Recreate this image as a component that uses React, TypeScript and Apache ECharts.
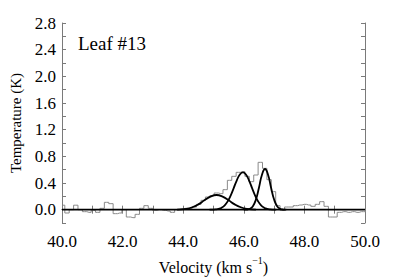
import React, { useEffect, useRef } from "react";
import * as echarts from "echarts";

// Observed spectrum: channel centres (km/s) and brightness temperature (K)
const channelStart = 40.02;
const channelWidth = 0.145;
const observedT = [
  0.067, -0.05, 0.0, 0.067, 0.0, -0.03, -0.04, -0.01, -0.04, 0.02,
  0.11, 0.09, -0.06, -0.05, 0.0, -0.11, -0.12, -0.07, 0.02, 0.06,
  0.02, -0.01, 0.0, -0.01, -0.02, -0.04, 0.0, 0.01, 0.02, 0.02,
  0.04, 0.08, 0.14, 0.19, 0.21, 0.25, 0.24, 0.3, 0.44, 0.5,
  0.56, 0.57, 0.5, 0.42, 0.52, 0.71, 0.62, 0.45, 0.27, 0.06,
  -0.01, 0.04, 0.04, 0.06, 0.07, 0.08, 0.07, 0.05, 0.08, 0.12,
  0.05, -0.11, -0.11, -0.04, -0.03, -0.04, -0.03, -0.04, -0.03, -0.03,
];
const observedV = observedT.map((_, i) => +(channelStart + i * channelWidth).toFixed(3));

// Fitted components
const fit1V = [43.8, 44.1, 44.3, 44.5, 44.7, 44.9, 45.1, 45.3, 45.5, 45.7, 45.9, 46.1, 46.4];
const fit1T = [0.002, 0.013, 0.036, 0.079, 0.14, 0.196, 0.22, 0.196, 0.14, 0.079, 0.036, 0.013, 0.002];

const fit2V = [44.87, 44.97, 45.07, 45.17, 45.27, 45.37, 45.47, 45.57, 45.67, 45.77, 45.87, 45.97,
  46.07, 46.17, 46.27, 46.37, 46.47, 46.57, 46.67, 46.77, 46.87, 46.97, 47.07];
const fit2T = [0.0002, 0.0015, 0.0045, 0.012, 0.03, 0.066, 0.127, 0.216, 0.328, 0.441, 0.528, 0.56,
  0.528, 0.441, 0.328, 0.216, 0.127, 0.066, 0.03, 0.012, 0.0045, 0.0015, 0.0002];

const fit3V = [46.0, 46.1, 46.2, 46.3, 46.4, 46.5, 46.6, 46.7, 46.8, 46.9, 47.0, 47.1, 47.2, 47.3, 47.4];
const fit3T = [0.0005, 0.002, 0.013, 0.052, 0.152, 0.329, 0.523, 0.61, 0.523, 0.329, 0.152, 0.052, 0.013, 0.002, 0.0005];

const baselineV = [40, 50];
const baselineT = [0, 0];

const label = "Leaf #13";

const zip = (a: number[], b: number[]) => a.map((v, i) => [v, b[i]]);

const FONT = "Liberation Serif";
const FRAME = "#7a7a7a";

export default function App() {
  const ref = useRef<HTMLDivElement>(null);
  useEffect(() => {
    if (!ref.current) return;
    document.body.style.margin = "0";
    const chart = echarts.init(ref.current, null, { renderer: "svg" });
    const xCommon = {
      type: "value" as const,
      min: 40,
      max: 50,
      interval: 1,
      axisLine: { show: true, lineStyle: { color: FRAME, width: 1 } },
      axisTick: { show: true, inside: true, length: 4, lineStyle: { color: FRAME } },
      splitLine: { show: false },
    };
    const yCommon = {
      type: "value" as const,
      min: -0.2,
      max: 2.8,
      interval: 0.2,
      axisLine: { show: true, lineStyle: { color: FRAME, width: 1 } },
      axisTick: { show: true, inside: true, length: 4, lineStyle: { color: FRAME } },
      splitLine: { show: false },
    };
    const curve = (v: number[], t: number[]) => ({
      type: "line" as const,
      data: zip(v, t),
      showSymbol: false,
      smooth: true,
      lineStyle: { color: "#000", width: 1.8 },
      z: 3,
    });
    chart.setOption({
      animation: false,
      grid: { left: 59, right: 30, top: 23, bottom: 48 },
      xAxis: [
        {
          ...xCommon,
          position: "bottom",
          axisLabel: {
            margin: 10,
            fontFamily: FONT,
            fontSize: 17,
            color: "#000",
            formatter: (v: number) => (Math.round(v) % 2 === 0 ? v.toFixed(1) : ""),
          },
          name: "{a|Velocity (km s}{s|−1}{a|)}",
          nameLocation: "middle",
          nameGap: 32,
          nameTextStyle: {
            rich: {
              a: { fontFamily: FONT, fontSize: 16, color: "#000", verticalAlign: "bottom", lineHeight: 20 },
              s: { fontFamily: FONT, fontSize: 10, color: "#000", verticalAlign: "top", lineHeight: 20 },
            },
          },
        },
        { ...xCommon, position: "top", axisLabel: { show: false } },
      ],
      yAxis: [
        {
          ...yCommon,
          position: "left",
          axisLabel: {
            margin: 6,
            fontFamily: FONT,
            fontSize: 17,
            color: "#000",
            formatter: (v: number) => {
              const k = Math.round(v * 10);
              return k >= 0 && k % 4 === 0 ? v.toFixed(1) : "";
            },
          },
          name: "Temperature (K)",
          nameLocation: "middle",
          nameGap: 39,
          nameTextStyle: { fontFamily: FONT, fontSize: 15, color: "#000" },
        },
        { ...yCommon, position: "right", axisLabel: { show: false } },
      ],
      series: [
        {
          type: "line",
          data: zip(observedV, observedT),
          step: "middle",
          showSymbol: false,
          lineStyle: { color: "#8a8a8a", width: 1 },
          z: 2,
        },
        {
          type: "line",
          data: zip(baselineV, baselineT),
          showSymbol: false,
          lineStyle: { color: "#000", width: 1.6 },
          z: 4,
        },
        curve(fit1V, fit1T),
        curve(fit2V, fit2T),
        curve(fit3V, fit3T),
      ],
      graphic: [
        {
          type: "text",
          left: 78,
          top: 34,
          style: { text: label, fontFamily: FONT, fontSize: 19, fill: "#000" },
        },
      ],
    });
    return () => chart.dispose();
  }, []);
  return <div ref={ref} style={{ width: 395, height: 280 }} />;
}
